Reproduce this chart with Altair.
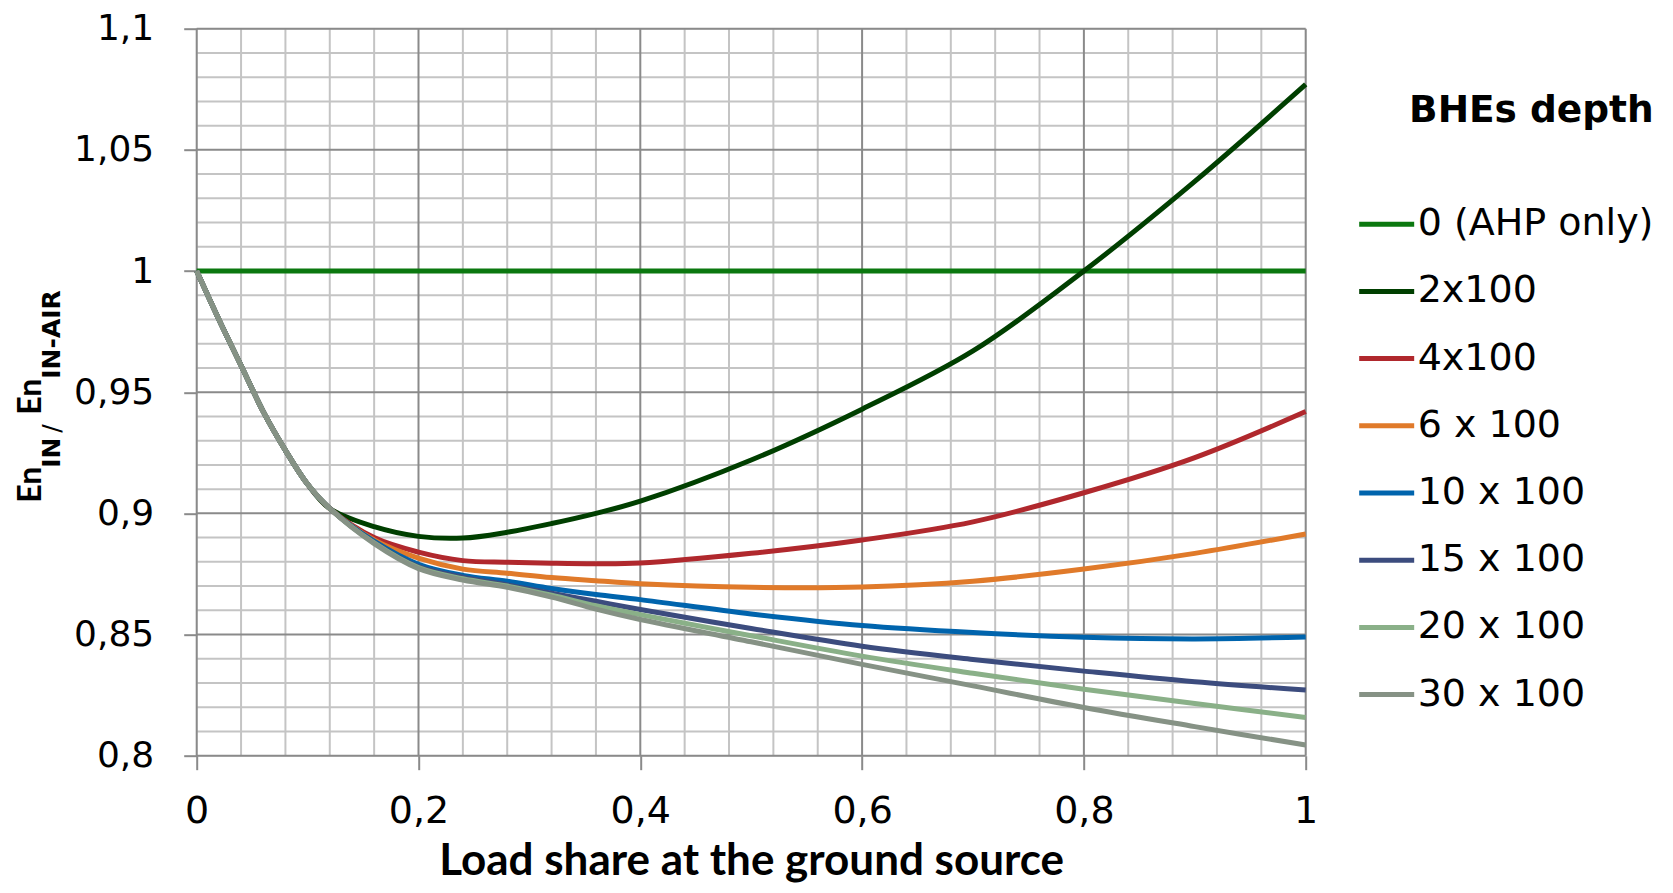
import altair as alt
import pandas as pd

# ---------------- data ----------------
x_vals = [0.00, 0.02, 0.04, 0.06, 0.08, 0.10, 0.12, 0.16, 0.20, 0.24, 0.28,
          0.32, 0.36, 0.40, 0.50, 0.60, 0.70, 0.80, 0.90, 1.00]

series_names = ["0 (AHP only)", "2x100", "4x100", "6 x 100", "10 x 100",
                "15 x 100", "20 x 100", "30 x 100"]
series_colors = ["#0b780f", "#003f00", "#b0282d", "#e07a2a", "#0064ad",
                 "#3c4c7e", "#8ab088", "#869285"]

ahp = [1.0, 1.0, 1.0, 1.0, 1.0, 1.0, 1.0, 1.0, 1.0, 1.0, 1.0, 1.0, 1.0, 1.0,
       1.0, 1.0, 1.0, 1.0, 1.0, 1.0]
s2 = [1.000, 0.980, 0.961, 0.942, 0.926, 0.912, 0.902, 0.8945, 0.8905, 0.8898,
      0.8922, 0.8958, 0.900, 0.905, 0.922, 0.943, 0.967, 1.000, 1.037, 1.077]
s4 = [1.000, 0.980, 0.961, 0.942, 0.926, 0.912, 0.902, 0.890, 0.884, 0.8805,
      0.8798, 0.8794, 0.8792, 0.8795, 0.8835, 0.889, 0.8965, 0.9085, 0.923, 0.942]
s6 = [1.000, 0.980, 0.961, 0.942, 0.926, 0.912, 0.902, 0.889, 0.8815, 0.877,
      0.8753, 0.8735, 0.8722, 0.871, 0.8695, 0.8696, 0.872, 0.877, 0.8835, 0.8915]
s10 = [1.000, 0.980, 0.961, 0.942, 0.926, 0.912, 0.902, 0.8885, 0.879, 0.8744,
       0.872, 0.869, 0.8665, 0.8644, 0.8585, 0.8537, 0.8508, 0.8489, 0.8482, 0.849]
s15 = [1.000, 0.980, 0.961, 0.942, 0.926, 0.912, 0.902, 0.888, 0.878, 0.8737,
       0.8705, 0.867, 0.8637, 0.8603, 0.8525, 0.8452, 0.8397, 0.8349, 0.8305, 0.8271]
s20 = [1.000, 0.980, 0.961, 0.942, 0.926, 0.912, 0.902, 0.8878, 0.8776, 0.873,
       0.870, 0.8662, 0.8619, 0.8582, 0.8495, 0.8411, 0.834, 0.8274, 0.8215, 0.8158]
s30 = [1.000, 0.980, 0.961, 0.942, 0.926, 0.912, 0.902, 0.8875, 0.8772, 0.8725,
       0.8695, 0.8655, 0.8605, 0.8562, 0.847, 0.8377, 0.8288, 0.8199, 0.812, 0.8044]

series_values = [ahp, s2, s4, s6, s10, s15, s20, s30]

x_major = [0.0, 0.2, 0.4, 0.6, 0.8, 1.0]
y_major = [0.8, 0.85, 0.9, 0.95, 1.0, 1.05, 1.1]
x_minor = [0.04, 0.08, 0.12, 0.16, 0.24, 0.28, 0.32, 0.36, 0.44, 0.48, 0.52,
           0.56, 0.64, 0.68, 0.72, 0.76, 0.84, 0.88, 0.92, 0.96]
y_minor = [0.81, 0.82, 0.83, 0.84, 0.86, 0.87, 0.88, 0.89, 0.91, 0.92, 0.93,
           0.94, 0.96, 0.97, 0.98, 0.99, 1.01, 1.02, 1.03, 1.04, 1.06, 1.07,
           1.08, 1.09]

x_title = "Load share at the ground source"
legend_title = "BHEs depth"

# ---------------- build ----------------
rows = []
for name, vals in zip(series_names, series_values):
    for xv, yv in zip(x_vals, vals):
        rows.append({"series": name, "x": xv, "y": yv})
df = pd.DataFrame(rows)

W, H = 1109, 727
FONT = "DejaVu Sans"

xscale = alt.Scale(domain=[0, 1], nice=False, zero=False)
yscale = alt.Scale(domain=[0.8, 1.1], nice=False, zero=False)
lab_expr = "replace(format(datum.value, '.2~f'), '.', ',')"

minor_x = alt.Chart(pd.DataFrame({"v": x_minor})).mark_rule(
    color="#c4c4c4", strokeWidth=2).encode(x=alt.X("v:Q", scale=xscale))
minor_y = alt.Chart(pd.DataFrame({"v": y_minor})).mark_rule(
    color="#c4c4c4", strokeWidth=2).encode(y=alt.Y("v:Q", scale=yscale))
major_x = alt.Chart(pd.DataFrame({"v": x_major})).mark_rule(
    color="#8a8a8a", strokeWidth=2).encode(x=alt.X("v:Q", scale=xscale))
major_y = alt.Chart(pd.DataFrame({"v": y_major})).mark_rule(
    color="#8a8a8a", strokeWidth=2).encode(y=alt.Y("v:Q", scale=yscale))

color_enc = alt.Color(
    "series:N",
    scale=alt.Scale(domain=series_names, range=series_colors),
    sort=series_names,
    legend=alt.Legend(
        title=legend_title, orient="none", legendX=1160, legendY=63,
        titleFont=FONT, titleFontSize=37.5, titleFontWeight="bold",
        titleColor="black", titleAnchor="end", titlePadding=65,
        titleLimit=500,
        labelFont=FONT, labelFontSize=38, labelColor="black",
        labelOffset=1, symbolType="stroke", symbolSize=3025,
        symbolStrokeWidth=5, rowPadding=18.2, padding=0,
        labelLimit=500,
    ),
)

line_layers = []
for i, name in enumerate(series_names):
    lay = alt.Chart(df).transform_filter(
        alt.datum.series == name
    ).mark_line(strokeWidth=5, interpolate="catmull-rom").encode(
        x=alt.X("x:Q", scale=xscale,
                axis=alt.Axis(values=x_major, labelExpr=lab_expr, title=x_title,
                              grid=False, domain=False, tickColor="#8a8a8a",
                              tickWidth=2, tickSize=14, labelPadding=23,
                              labelFlush=False,
                              labelFont=FONT, labelFontSize=38, labelColor="black",
                              titleFont="Lato", titleFontSize=44,
                              titleFontWeight="bold", titleColor="black",
                              titleBaseline="alphabetic", titleY=119)),
        y=alt.Y("y:Q", scale=yscale,
                axis=alt.Axis(values=y_major, labelExpr=lab_expr, title=None,
                              grid=False, domain=False, tickColor="#8a8a8a",
                              tickWidth=2, tickSize=13, labelPadding=30,
                              labelFlush=False,
                              labelFont=FONT, labelFontSize=36, labelColor="black")),
        color=color_enc,
    )
    line_layers.append(lay)


def ytitle_piece(text, xpos, ypos, size, font, weight):
    return alt.Chart(pd.DataFrame({"t": [text]})).mark_text(
        angle=270, align="left", baseline="alphabetic", font=font,
        fontSize=size, fontWeight=weight, color="black"
    ).encode(text="t:N", x=alt.value(xpos), y=alt.value(ypos))


title_layers = [
    ytitle_piece("En", -156, 474, 32, "Lato", "bold"),
    ytitle_piece("IN", -137, 439, 25, FONT, "bold"),
    ytitle_piece("/", -137, 404, 25, FONT, "normal"),
    ytitle_piece("En", -156, 386, 32, "Lato", "bold"),
    ytitle_piece("IN-AIR", -137, 350, 25, FONT, "bold"),
]

chart = alt.layer(
    minor_x, minor_y, major_x, major_y, *line_layers, *title_layers
).properties(
    width=W, height=H,
    autosize=alt.AutoSizeParams(type="none"),
    padding={"left": 188.7, "top": 20.7, "right": 359, "bottom": 129},
).configure_view(stroke=None).configure(background="white")

chart.save("out.html", embed_options={"renderer": "svg", "actions": False})
